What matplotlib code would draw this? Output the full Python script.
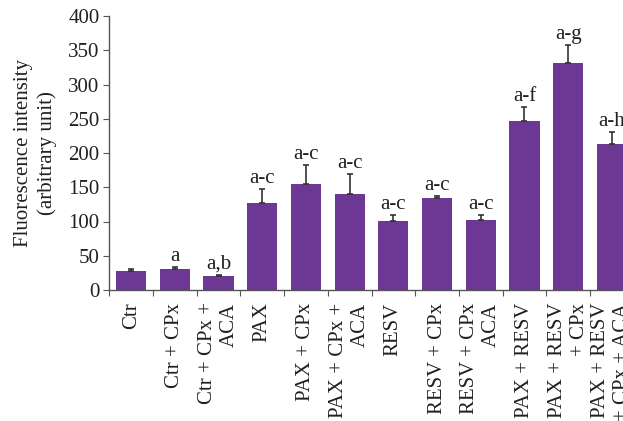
import matplotlib
matplotlib.use("Agg")
import matplotlib.pyplot as plt
import numpy as np

# ── Data ─────────────────────────────────────────────────────────────
groups = ["Ctr", "Ctr + CPx", "Ctr + CPx +\nACA", "PAX", "PAX + CPx",
          "PAX + CPx +\nACA", "RESV", "RESV + CPx", "RESV + CPx\nACA",
          "PAX + RESV", "PAX + RESV\n+ CPx", "PAX + RESV\n+ CPx + ACA"]
means = [27.5, 30.5, 20.5, 127, 155, 140, 101, 134, 102, 247, 331, 213]
sems = [2.5, 2.5, 1.5, 21, 27, 30, 9, 3.5, 8, 20, 26, 18]
letters = ["", "a", "a,b", "a-c", "a-c", "a-c", "a-c", "a-c", "a-c",
           "a-f", "a-g", "a-h"]
yticks = [0, 50, 100, 150, 200, 250, 300, 350, 400]

BAR_COLOR = '#6C3894'
TEXT_COLOR = '#231F20'
FONT = 'Liberation Serif'
FS = 15

plt.rcParams['font.family'] = FONT
plt.rcParams['font.size'] = FS

fig = plt.figure(figsize=(6.23, 4.21), dpi=100)
W, H = 623, 421
x0, x1 = 109.3, 633.7
y0, y1 = 290, 16
ax = fig.add_axes([x0 / W, (H - y0) / H, (x1 - x0) / W, (y0 - y1) / H])

x = np.arange(len(groups))
ax.bar(x, means, width=0.69, color=BAR_COLOR, zorder=2)
ax.errorbar(x, means, yerr=[np.zeros(len(sems)), sems], fmt='none',
            ecolor='#333333', elinewidth=1.2, capsize=2.3, capthick=1.2,
            zorder=3)

for xi, m, s, lab in zip(x, means, sems, letters):
    if lab:
        ax.text(xi, m + s + 1.5, lab, ha='center', va='bottom',
                fontsize=FS, color=TEXT_COLOR)

ax.set_xlim(-0.5, len(groups) - 0.5)
ax.set_ylim(0, 400)
ax.set_yticks(yticks)

# boundaries get the tick marks, centres get the labels
ax.set_xticks(np.arange(len(groups) + 1) - 0.5)
ax.set_xticklabels([])
ax.set_xticks(x, minor=True)
ax.set_xticklabels(groups, minor=True, rotation=90, ha='center', va='top',
                   multialignment='right', color=TEXT_COLOR)
ax.tick_params(axis='x', which='minor', length=0, pad=9)
ax.tick_params(axis='x', which='major', length=4, direction='out',
               color='#555555')
ax.tick_params(axis='y', length=4, direction='out', color='#555555',
               labelcolor=TEXT_COLOR, pad=3)

for side in ('top', 'right'):
    ax.spines[side].set_visible(False)
for side in ('left', 'bottom'):
    ax.spines[side].set_color('#555555')
    ax.spines[side].set_linewidth(1.0)

ax.set_ylabel('Fluorescence intensity\n(arbitrary unit)', color=TEXT_COLOR,
              fontsize=FS, labelpad=8, linespacing=1.3)

fig.savefig('out.png', dpi=100)
